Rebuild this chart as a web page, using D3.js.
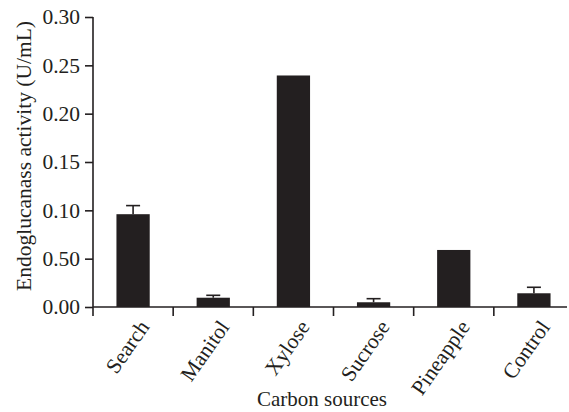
<!DOCTYPE html>
<html><head><meta charset="utf-8">
<script src="https://cdn.jsdelivr.net/npm/d3@7"></script>
<style>
html,body{margin:0;padding:0;background:#fff;}
svg text{font-family:"Liberation Serif","Times New Roman",serif;fill:#231f20;}
</style></head>
<body>
<svg id="chart" width="569" height="412"></svg>
<script>
const categories = ["Search","Manitol","Xylose","Sucrose","Pineapple","Control"];
const values = [0.096, 0.0096, 0.2395, 0.0049, 0.059, 0.0142];
const errors = [0.0089, 0.0025, 0, 0.0037, 0, 0.0062];
const tickValues = [0, 0.05, 0.10, 0.15, 0.20, 0.25, 0.30];
const tickLabels = ["0.00","0.50","0.10","0.15","0.20","0.25","0.30"];
const yTitle = "Endoglucanass activity (U/mL)";
const xTitle = "Carbon sources";

const svg = d3.select("#chart");
const ink = "#231f20";
const x = d3.scaleBand().domain(categories).range([93, 574]).paddingInner(0).paddingOuter(0);
const y = d3.scaleLinear().domain([0, 0.30]).range([307, 17]);
const barW = x.bandwidth() * 0.415;

// y axis
const yAxis = d3.axisLeft(y).tickValues(tickValues).tickFormat((d,i)=>tickLabels[i]).tickSize(8).tickPadding(5);
const gy = svg.append("g").attr("transform","translate(93,0)").call(yAxis);
gy.select(".domain").remove();
gy.selectAll(".tick line").attr("stroke", ink).attr("stroke-width",1.6);
gy.selectAll(".tick text").style("font-size","21.5px").attr("fill",ink);
svg.append("line").attr("x1",93).attr("x2",93).attr("y1",y(0.30)).attr("y2",316)
  .attr("stroke",ink).attr("stroke-width",1.6);

// x axis
svg.append("line").attr("x1",93).attr("x2",567).attr("y1",y(0)).attr("y2",y(0))
  .attr("stroke",ink).attr("stroke-width",1.6);
svg.selectAll(".xtick").data(categories.slice(1)).enter().append("line")
  .attr("x1",d=>x(d)).attr("x2",d=>x(d)).attr("y1",y(0)).attr("y2",y(0)+9)
  .attr("stroke",ink).attr("stroke-width",1.6);

// bars
svg.selectAll(".bar").data(categories).enter().append("rect")
  .attr("x",d=>x(d)+x.bandwidth()/2-barW/2)
  .attr("width",barW)
  .attr("y",(d,i)=>y(values[i]))
  .attr("height",(d,i)=>y(0)-y(values[i]))
  .attr("fill",ink);

// error bars
categories.forEach((c,i)=>{
  if(!errors[i]) return;
  const cx = x(c)+x.bandwidth()/2;
  svg.append("line").attr("x1",cx).attr("x2",cx).attr("y1",y(values[i])).attr("y2",y(values[i]+errors[i]))
    .attr("stroke",ink).attr("stroke-width",1.6);
  svg.append("line").attr("x1",cx-7).attr("x2",cx+7).attr("y1",y(values[i]+errors[i])).attr("y2",y(values[i]+errors[i]))
    .attr("stroke",ink).attr("stroke-width",1.6);
});

// x labels
svg.selectAll(".xl").data(categories).enter().append("text")
  .attr("transform",d=>`translate(${x(d)+x.bandwidth()/2+17},${y(0)+20}) rotate(-55)`)
  .attr("text-anchor","end")
  .style("font-size","21.5px")
  .text(d=>d);

// titles
svg.append("text").attr("x",322).attr("y",406).attr("text-anchor","middle").style("font-size","21px").text(xTitle);
svg.append("text").attr("transform","translate(31,156) rotate(-90)").attr("text-anchor","middle").style("font-size","21.5px").text(yTitle);
</script>
</body></html>
